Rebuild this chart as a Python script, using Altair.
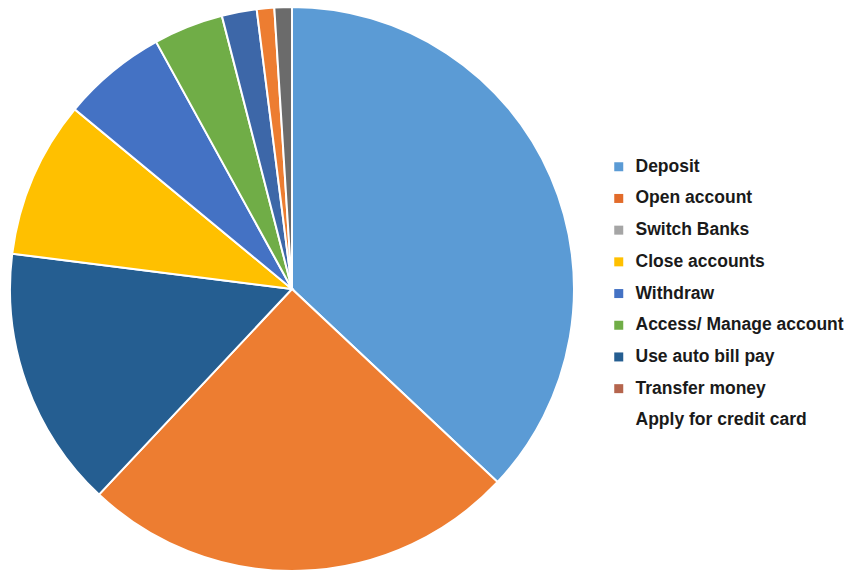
import altair as alt
import pandas as pd

# Slices, clockwise from 12 o'clock
slice_names = ["Deposit", "Open account", "Use auto bill pay", "Close accounts",
               "Withdraw", "Access/ Manage account", "Apply for credit card",
               "Transfer money", "Switch Banks"]
slice_values = [37, 25, 15, 9, 6, 4, 2, 1, 1]
slice_colors = ["#5b9bd5", "#ed7d31", "#255e91", "#ffc000",
                "#4472c4", "#70ad47", "#3d67a8", "#ed7d31", "#6b6b6b"]

# Legend entries (top to bottom)
legend_names = ["Deposit", "Open account", "Switch Banks", "Close accounts",
                "Withdraw", "Access/ Manage account", "Use auto bill pay",
                "Transfer money", "Apply for credit card"]
legend_colors = ["#5b9bd5", "#e26b2a", "#a5a5a5", "#ffc000",
                 "#4472c4", "#70ad47", "#255e91", "#b5654d", "#ffffff"]

pie_df = pd.DataFrame({
    "name": slice_names,
    "value": slice_values,
    "fill_color": slice_colors,
    "idx": list(range(len(slice_names))),
})
legend_df = pd.DataFrame({"name": legend_names})

pie = alt.Chart(pie_df).mark_arc(stroke="white", strokeWidth=2).encode(
    theta=alt.Theta("value:Q", stack=True),
    fill=alt.Fill("fill_color:N", scale=None, legend=None),
    order=alt.Order("idx:Q"),
)

legend_layer = alt.Chart(legend_df).mark_square(opacity=0).encode(
    color=alt.Color(
        "name:N",
        scale=alt.Scale(domain=legend_names, range=legend_colors),
        sort=legend_names,
        legend=alt.Legend(
            title=None,
            orient="none",
            legendX=600,
            legendY=151,
            symbolType="square",
            symbolSize=81,
            symbolOpacity=1,
            symbolStrokeWidth=0,
            labelFont="Liberation Sans",
            labelFontWeight="bold",
            labelFontSize=17.5,
            labelColor="#1a1a1a",
            labelOffset=8,
            rowPadding=12.7,
            labelLimit=400,
        ),
    )
)

chart = alt.layer(pie, legend_layer).properties(
    width=564,
    height=564,
    padding={"left": 6, "top": 3, "right": 0, "bottom": 0},
    background="white",
).configure_view(stroke=None)

chart.save("out.html", embed_options={"renderer": "svg", "actions": False})
